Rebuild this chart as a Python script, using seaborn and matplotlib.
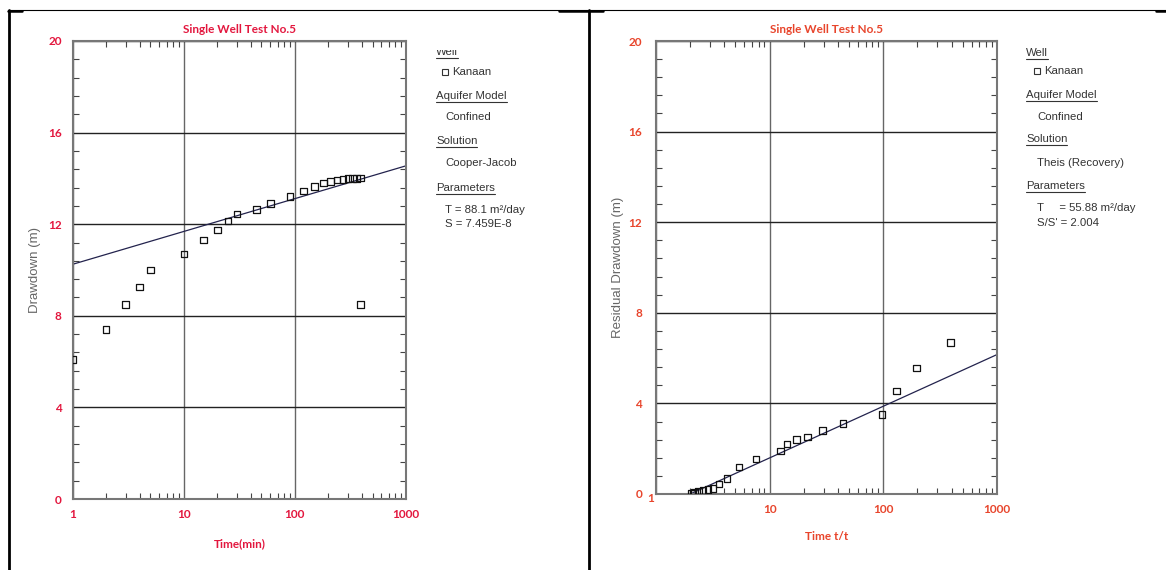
import numpy as np
import pandas as pd
import seaborn as sns
import matplotlib.pyplot as plt
from matplotlib.lines import Line2D
from matplotlib.patches import Rectangle
from matplotlib.ticker import MultipleLocator, LogLocator, NullFormatter
import matplotlib.transforms as mtransforms

# pumping test, Cooper-Jacob (left panel)
time_min = [1, 2, 3, 4, 5, 10, 15, 20, 25, 30, 45, 60, 90, 120, 150, 180,
            210, 240, 270, 300, 330, 360, 390, 390]
drawdown_m = [6.1, 7.4, 8.5, 9.25, 10.0, 10.7, 11.3, 11.75, 12.15, 12.45, 12.65,
              12.9, 13.2, 13.45, 13.65, 13.8, 13.87, 13.92, 13.96, 13.99, 14.0,
              14.0, 14.02, 8.5]
cj_fit_time = [1, 1000]
cj_fit_drawdown = [10.25, 14.55]

# recovery test, Theis recovery (right panel)
time_ratio = [2.05, 2.12, 2.18, 2.36, 2.6, 2.88, 3.18, 3.6, 4.23, 5.4, 7.6, 12.5,
              14.3, 17.2, 21.5, 29.2, 44.4, 98, 131, 197, 393]
residual_m = [0.03, 0.05, 0.07, 0.12, 0.15, 0.2, 0.25, 0.44, 0.68, 1.2, 1.55, 1.9,
              2.2, 2.41, 2.52, 2.81, 3.12, 3.52, 4.55, 5.56, 6.7]
theis_fit_ratio = [2, 1000]
theis_fit_residual = [0.0, 6.15]

x_ticks = [1, 10, 100, 1000]
x_tick_labels = ['1', '10', '100', '1000']
y_ticks = [0, 4, 8, 12, 16, 20]
y_tick_labels = ['0', '4', '8', '12', '16', '20']

left_legend = [('Well', 'head'), ('Kanaan', 'marker'), ('Aquifer Model', 'head'),
               ('Confined', 'item'), ('Solution', 'head'), ('Cooper-Jacob', 'item'),
               ('Parameters', 'head'), ('T = 88.1 m\u00b2/day', 'item'),
               ('S = 7.459E-8', 'item')]
right_legend = [('Well', 'head'), ('Kanaan', 'marker'), ('Aquifer Model', 'head'),
                ('Confined', 'item'), ('Solution', 'head'), ('Theis (Recovery)', 'item'),
                ('Parameters', 'head'), ('T     = 55.88 m\u00b2/day', 'item'),
                ("S/S' = 2.004", 'item')]

W, H = 1166, 570
RED_L = '#e3173e'
RED_R = '#e8452c'
BOLD_FONT = ['Lato', 'DejaVu Sans']
LEG_FONT = ['Liberation Sans Narrow', 'Liberation Sans', 'DejaVu Sans']

sns.set_style('white')
plt.rcParams['font.family'] = ['Liberation Sans', 'DejaVu Sans']

fig = plt.figure(figsize=(W / 100, H / 100), dpi=100)


def fx(x):
    return x / W


def fy(y):
    return 1 - y / H


def make_axes(left, right, top, bottom):
    return fig.add_axes([fx(left), fy(bottom), (right - left) / W, (bottom - top) / H])


def style_axes(ax, red, title, xlabel, ylabel, ypad, ylabpad, xlabpad):
    ax.set_xscale('log')
    ax.set_xlim(1, 1000)
    ax.set_ylim(0, 20)
    ax.set_xticks(x_ticks, labels=x_tick_labels, color=red, fontweight='bold',
                  fontsize=8.5, family=BOLD_FONT)
    ax.set_yticks(y_ticks, labels=y_tick_labels, color=red, fontweight='bold',
                  fontsize=8.5, family=BOLD_FONT)
    ax.xaxis.set_minor_locator(LogLocator(base=10, subs=np.arange(2, 10)))
    ax.xaxis.set_minor_formatter(NullFormatter())
    ax.yaxis.set_minor_locator(MultipleLocator(0.8))
    ax.tick_params(which='major', length=0)
    ax.tick_params(axis='x', which='major', pad=7)
    ax.tick_params(axis='y', which='major', pad=ypad)
    ax.tick_params(which='minor', direction='in', length=4, width=0.8,
                   color='#444444', top=True, right=True, bottom=True, left=True)
    ax.xaxis.grid(True, which='major', color='#666666', lw=1.0)
    ax.yaxis.grid(True, which='major', color='#222222', lw=1.0)
    for sp in ax.spines.values():
        sp.set_color('#777777')
        sp.set_linewidth(1.5)
    ax.set_title(title, color=red, fontweight='bold', fontsize=8.5,
                 family=BOLD_FONT, pad=6)
    ax.set_xlabel(xlabel, color=red, fontweight='bold', fontsize=8.5,
                  family=BOLD_FONT, labelpad=xlabpad)
    ax.set_ylabel(ylabel, color='#666666', fontsize=9.5, labelpad=ylabpad)


def draw_legend(x_head, x_item, ys, entries):
    renderer = fig.canvas.get_renderer()
    for (txt, kind), y in zip(entries, ys):
        if kind == 'marker':
            fig.add_artist(Line2D([fx(x_item)], [fy(y)], marker='s', ms=4.5,
                                  mfc='none', mec='#333333', mew=0.8))
            fig.text(fx(x_item + 7), fy(y), txt, family=LEG_FONT, fontsize=8.2,
                     color='#333333', va='center', ha='left')
            continue
        x0 = x_head if kind == 'head' else x_item
        t = fig.text(fx(x0), fy(y), txt, family=LEG_FONT, fontsize=8.2,
                     color='#333333', va='center', ha='left')
        if kind == 'head':
            bb = t.get_window_extent(renderer)
            fig.add_artist(Line2D([bb.x0 / W, bb.x1 / W], [fy(y + 6), fy(y + 6)],
                                  color='#333333', lw=0.8))


# left panel
ax1 = make_axes(72.7, 406, 41, 499)
sns.lineplot(x=cj_fit_time, y=cj_fit_drawdown, color='#23234d', lw=0.9, ax=ax1)
sns.scatterplot(x=time_min, y=drawdown_m, marker='s', s=22, facecolor='none',
                edgecolor='#111111', linewidth=0.9, ax=ax1, zorder=3)
style_axes(ax1, RED_L, 'Single Well Test No.5', 'Time(min)', 'Drawdown (m)', 8, 5, 13)

# right panel
ax2 = make_axes(656, 996.7, 41, 494)
sns.lineplot(x=theis_fit_ratio, y=theis_fit_residual, color='#23234d', lw=0.9, ax=ax2)
sns.scatterplot(x=time_ratio, y=residual_m, marker='s', s=22, facecolor='none',
                edgecolor='#111111', linewidth=0.9, ax=ax2, zorder=3)
style_axes(ax2, RED_R, 'Single Well Test No.5', 'Time t/t', 'Residual Drawdown (m)', 10, 3, 12)
# the "1" label sits higher than the others in the source chart
lbl1 = ax2.get_xticklabels()[0]
lbl1.set_transform(lbl1.get_transform()
                   + mtransforms.ScaledTranslation(-5 / 100, 11 / 100, fig.dpi_scale_trans))

# legends
draw_legend(436, 445, [52, 72, 96, 117, 141, 163, 188, 210, 224], left_legend)
draw_legend(1026, 1037, [53, 71, 95, 117, 139, 163, 186, 208, 223], right_legend)
# hide top half of the clipped "Well" heading in the left legend
fig.add_artist(Rectangle((fx(430), fy(50)), 80 / W, 25 / H, facecolor='white',
                         edgecolor='none', zorder=5))

# table cell borders
for x in (8.5, 589):
    fig.add_artist(Line2D([fx(x), fx(x)], [fy(10), 0], color='black', lw=2.0))
fig.add_artist(Line2D([fx(8), 1], [fy(10), fy(10)], color='black', lw=0.8))
for a, b in ((8, 22), (559, 603), (1156, 1166)):
    fig.add_artist(Line2D([fx(a), fx(b)], [fy(10.5), fy(10.5)], color='black', lw=1.8))

fig.savefig('out.png', dpi=100)
